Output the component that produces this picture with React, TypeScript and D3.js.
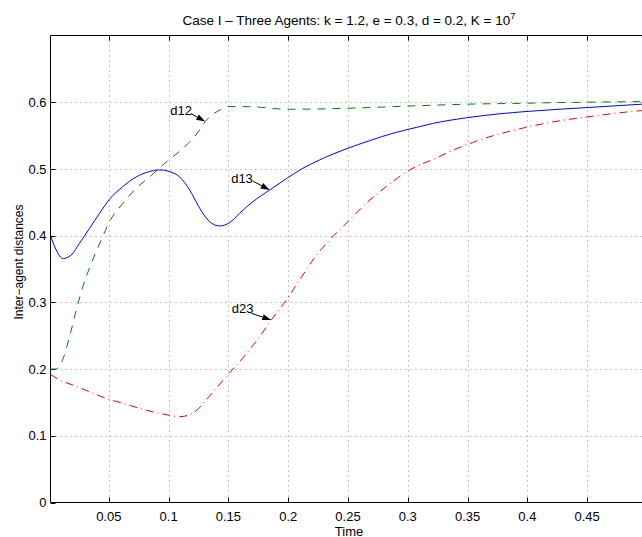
import React, { useEffect, useRef } from 'react';
import * as d3 from 'd3';

// values
const d13Time = [0.0013, 0.0035, 0.006, 0.0088, 0.0121, 0.0157, 0.0186, 0.0255, 0.0339, 0.0423, 0.0506, 0.0617, 0.0729, 0.0841, 0.0925, 0.1008, 0.1092, 0.1176, 0.126, 0.1343, 0.1427, 0.151, 0.1594, 0.1705, 0.1845, 0.1984, 0.2123, 0.2262, 0.25, 0.2681, 0.2876, 0.3099, 0.3205, 0.3484, 0.3763, 0.3986, 0.4265, 0.45, 0.4956, 0.5];
const d13Vals = [0.401, 0.389, 0.3786, 0.3696, 0.3655, 0.3676, 0.371, 0.3886, 0.411, 0.4336, 0.4546, 0.4735, 0.488, 0.496, 0.4985, 0.496, 0.488, 0.4685, 0.441, 0.421, 0.4145, 0.4195, 0.4336, 0.451, 0.4685, 0.4853, 0.501, 0.5135, 0.531, 0.5424, 0.5535, 0.5634, 0.568, 0.5765, 0.5825, 0.586, 0.5895, 0.592, 0.597, 0.5975];

const d12Time = [0.0013, 0.006, 0.0102, 0.0172, 0.0228, 0.0283, 0.0354, 0.0437, 0.0506, 0.0618, 0.0729, 0.0841, 0.0952, 0.1078, 0.1166, 0.125, 0.1306, 0.1431, 0.1501, 0.1668, 0.1984, 0.2086, 0.25, 0.3044, 0.3486, 0.3986, 0.4236, 0.45, 0.5];
const d12Vals = [0.2, 0.2, 0.2087, 0.2486, 0.2886, 0.3235, 0.3586, 0.3936, 0.421, 0.4486, 0.471, 0.488, 0.506, 0.5244, 0.5385, 0.556, 0.571, 0.5885, 0.5934, 0.5934, 0.5895, 0.5895, 0.591, 0.5945, 0.597, 0.5985, 0.5994, 0.6, 0.601];

const d23Time = [0.0013, 0.0088, 0.0199, 0.0339, 0.0478, 0.0617, 0.0757, 0.0896, 0.1008, 0.1091, 0.1161, 0.1231, 0.1314, 0.1398, 0.1481, 0.1593, 0.1761, 0.1858, 0.1984, 0.2095, 0.2207, 0.2346, 0.25, 0.2653, 0.282, 0.3015, 0.3234, 0.3402, 0.354, 0.3707, 0.3874, 0.4014, 0.4181, 0.45, 0.4956, 0.5];
const d23Vals = [0.192, 0.1837, 0.176, 0.166, 0.156, 0.1487, 0.1412, 0.1346, 0.1307, 0.1286, 0.1307, 0.1376, 0.1537, 0.1712, 0.1886, 0.211, 0.2486, 0.2736, 0.3036, 0.3336, 0.3636, 0.3936, 0.421, 0.4486, 0.4735, 0.4985, 0.516, 0.53, 0.5394, 0.5495, 0.5574, 0.5634, 0.5694, 0.578, 0.5874, 0.588];

const xTicks = [0.05, 0.1, 0.15, 0.2, 0.25, 0.3, 0.35, 0.4, 0.45];
const yTicks = [0, 0.1, 0.2, 0.3, 0.4, 0.5, 0.6];

// annotation labels and the point each arrow points at
const labelNames = ['d12', 'd13', 'd23'];
const labelTime = [0.1306, 0.1845, 0.1858];
const labelVals = [0.571, 0.4685, 0.2736];

const FONT = '"Liberation Sans", Arial, Helvetica, sans-serif';

const App = () => {
  const svgRef = useRef<SVGSVGElement>(null);
  const width = 642, height = 537;
  const margin = { top: 35.5, left: 50.5, bottom: 502.5, right: 647 };

  useEffect(() => {
    const svg = d3.select(svgRef.current);
    svg.selectAll('*').remove();

    const x = d3.scaleLinear().domain([0.00125, 0.5]).range([margin.left, margin.right]);
    const y = d3.scaleLinear().domain([0, 0.7]).range([margin.bottom, margin.top]);

    svg.append('rect').attr('width', width).attr('height', height).attr('fill', '#fff');

    svg.append('defs').append('clipPath').attr('id', 'plotclip')
      .append('rect')
      .attr('x', margin.left).attr('y', margin.top)
      .attr('width', margin.right - margin.left).attr('height', margin.bottom - margin.top);

    // grid
    const grid = svg.append('g').attr('stroke', '#8a8a8a').attr('stroke-width', 1).attr('stroke-dasharray', '1,4');
    grid.selectAll('line.gx').data(xTicks).join('line')
      .attr('x1', d => Math.round(x(d)) + 0.5).attr('x2', d => Math.round(x(d)) + 0.5)
      .attr('y1', margin.top).attr('y2', margin.bottom);
    grid.selectAll('line.gy').data(yTicks.filter(d => d > 0)).join('line')
      .attr('class', 'gy')
      .attr('y1', d => Math.round(y(d)) + 0.5).attr('y2', d => Math.round(y(d)) + 0.5)
      .attr('x1', margin.left).attr('x2', margin.right);

    // box + inward ticks
    const ax = svg.append('g').attr('stroke', '#000').attr('stroke-width', 1).attr('fill', 'none');
    ax.append('path').attr('d', `M${margin.right},${margin.top}H${margin.left}V${margin.bottom}H${margin.right}`);
    xTicks.forEach(t => {
      const px = Math.round(x(t)) + 0.5;
      ax.append('line').attr('x1', px).attr('x2', px).attr('y1', margin.bottom).attr('y2', margin.bottom - 5);
      ax.append('line').attr('x1', px).attr('x2', px).attr('y1', margin.top).attr('y2', margin.top + 5);
    });
    yTicks.forEach(t => {
      const py = Math.round(y(t)) + 0.5;
      ax.append('line').attr('x1', margin.left).attr('x2', margin.left + 5).attr('y1', py).attr('y2', py);
    });

    // tick labels
    svg.append('g').selectAll('text').data(xTicks).join('text')
      .attr('x', d => x(d)).attr('y', 521)
      .attr('text-anchor', 'middle')
      .attr('font-family', FONT).attr('font-size', 13)
      .text(d => String(d));
    svg.append('g').selectAll('text').data(yTicks).join('text')
      .attr('x', 46.5).attr('y', d => y(d) + 4.7)
      .attr('text-anchor', 'end')
      .attr('font-family', FONT).attr('font-size', 13)
      .text(d => String(d));

    // lines
    const line = d3.line<[number, number]>()
      .x(d => x(d[0])).y(d => y(d[1]))
      .curve(d3.curveMonotoneX);
    const plot = svg.append('g').attr('clip-path', 'url(#plotclip)').attr('fill', 'none');
    plot.append('path')
      .attr('d', line(d23Time.map((t, i) => [t, d23Vals[i]])))
      .attr('stroke', '#ff0000').attr('stroke-width', 1).attr('stroke-dasharray', '8,4,1,4');
    plot.append('path')
      .attr('d', line(d12Time.map((t, i) => [t, d12Vals[i]])))
      .attr('stroke', '#008000').attr('stroke-width', 1).attr('stroke-dasharray', '8,7');
    plot.append('path')
      .attr('d', line(d13Time.map((t, i) => [t, d13Vals[i]])))
      .attr('stroke', '#0000ff').attr('stroke-width', 1);

    // annotations: text with arrow to the curve
    const textOff = [[-35, -7], [-38.5, -7.3], [-39.5, -6.7]];
    const tailOff = [[-14, -8], [-17, -9], [-20, -6.7]];
    labelNames.forEach((name, i) => {
      const tx = x(labelTime[i]), ty = y(labelVals[i]);
      svg.append('text')
        .attr('x', tx + textOff[i][0]).attr('y', ty + textOff[i][1])
        .attr('font-family', FONT).attr('font-size', 13)
        .text(name);
      const sx = tx + tailOff[i][0], sy = ty + tailOff[i][1];
      const ang = Math.atan2(ty - sy, tx - sx);
      const hl = 9, hw = 3;
      const bx = tx - hl * Math.cos(ang), by = ty - hl * Math.sin(ang);
      svg.append('line').attr('x1', sx).attr('y1', sy).attr('x2', bx).attr('y2', by)
        .attr('stroke', '#000').attr('stroke-width', 1);
      svg.append('path')
        .attr('d', `M${tx},${ty}L${bx - hw * Math.sin(ang)},${by + hw * Math.cos(ang)}L${bx + hw * Math.sin(ang)},${by - hw * Math.cos(ang)}Z`)
        .attr('fill', '#000');
    });

    // title and axis labels
    const title = svg.append('text')
      .attr('x', 349).attr('y', 25)
      .attr('text-anchor', 'middle')
      .attr('font-family', FONT).attr('font-size', 13.5);
    title.append('tspan').text('Case I \u2013 Three Agents: k = 1.2, e = 0.3, d = 0.2, K = 10');
    title.append('tspan').attr('dy', -6).attr('font-size', 9.5).text('7');

    svg.append('text')
      .attr('x', 349).attr('y', 535.5)
      .attr('text-anchor', 'middle')
      .attr('font-family', FONT).attr('font-size', 13)
      .text('Time');

    svg.append('text')
      .attr('transform', `translate(22.5,262) rotate(-90)`)
      .attr('text-anchor', 'middle')
      .attr('font-family', FONT).attr('font-size', 12)
      .text('Inter\u2212agent distances');
  }, []);

  return (
    <svg ref={svgRef} width={width} height={height}
      style={{ position: 'fixed', left: 0, top: 0, display: 'block' }} />
  );
};

export default App;
